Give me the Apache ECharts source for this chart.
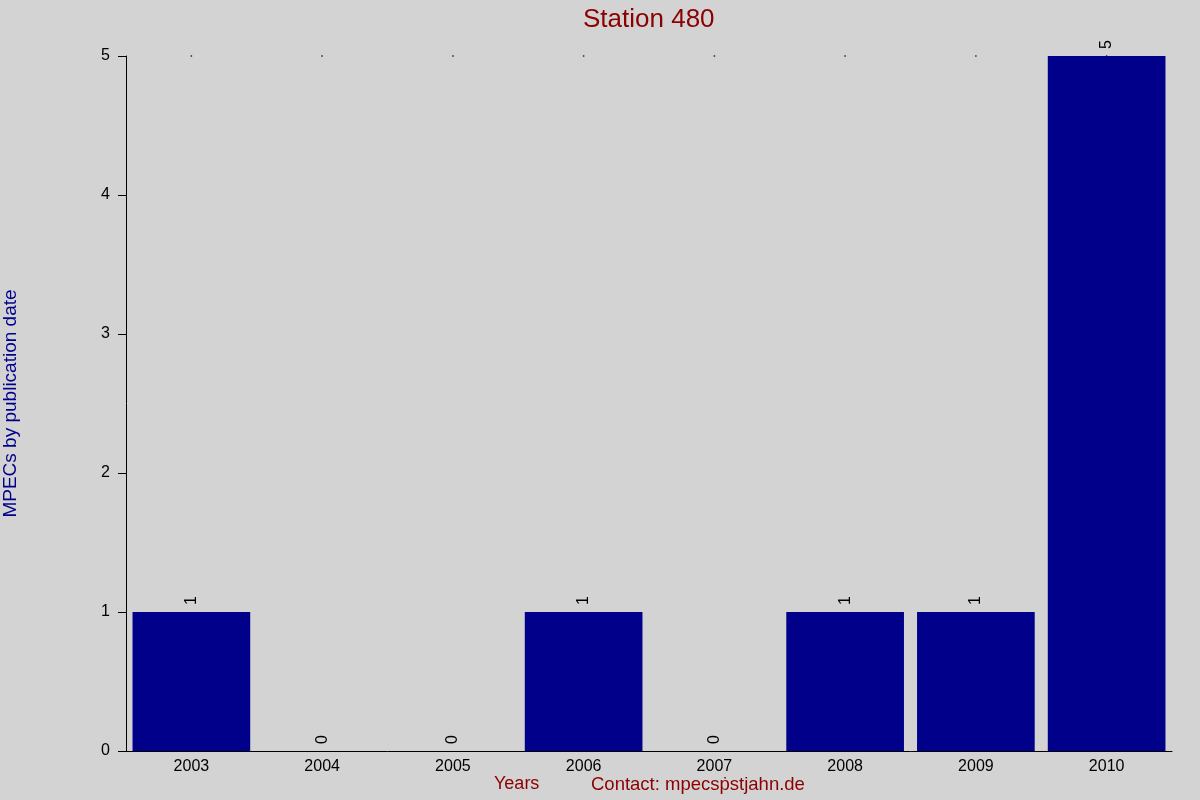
<!DOCTYPE html>
<html><head><meta charset="utf-8">
<script src="https://cdn.jsdelivr.net/npm/echarts@6/dist/echarts.min.js"></script>
<style>html,body{margin:0;padding:0;background:#D3D3D3}#c{width:1200px;height:800px}</style>
</head><body><div id="c"></div>
<script>
const categories = ['2003','2004','2005','2006','2007','2008','2009','2010'];
const mpecCounts = [1,0,0,1,0,1,1,5];
const yTicks = [0,1,2,3,4,5];
const yMax = 5;
const topMarks = categories.map(() => yMax);

const chart = echarts.init(document.getElementById('c'));
const font = 'Liberation Sans, Arial, sans-serif';
chart.setOption({
  backgroundColor: '#D3D3D3',
  animation: false,
  title: {
    text: 'Station 480', left: 578, top: 2,
    textStyle: {color: '#8B0000', fontSize: 26, fontWeight: 'normal', fontFamily: font}
  },
  grid: {left: 126, right: 28, top: 56, bottom: 49, containLabel: false, outerBoundsMode: 'none'},
  xAxis: {
    type: 'category', data: categories,
    axisLine: {show: true, lineStyle: {color: '#000', width: 1}},
    axisTick: {show: false},
    axisLabel: {color: '#000', fontSize: 16, fontFamily: font, margin: 8}
  },
  yAxis: {
    type: 'value', min: 0, max: yMax, interval: 1,
    name: 'MPECs by publication date', nameLocation: 'middle', nameGap: 106,
    nameTextStyle: {color: '#00008B', fontSize: 19, fontFamily: font},
    axisLine: {show: true, lineStyle: {color: '#000', width: 1}},
    axisTick: {show: true, length: 8, lineStyle: {color: '#000'}},
    axisLabel: {color: '#000', fontSize: 16, fontFamily: font, margin: 16},
    splitLine: {show: false}
  },
  series: [{
    type: 'bar', data: mpecCounts, barCategoryGap: '10%',
    itemStyle: {color: '#00008B'},
    label: {show: true, position: 'top', rotate: 90, align: 'left', verticalAlign: 'middle',
      distance: 7, color: '#000', fontSize: 16, fontFamily: font}
  }, {
    type: 'scatter', data: topMarks, symbol: 'rect', symbolSize: 1.5,
    itemStyle: {color: '#000'}, silent: true
  }],
  graphic: [
    {type: 'text', left: 494, top: 775, style: {text: 'Years', fill: '#8B0000', font: '18px ' + font}},
    {type: 'text', left: 591, top: 775, style: {text: 'Contact: mpecsṗstjahn.de', fill: '#8B0000', font: '18.5px ' + font}}
  ]
});
</script></body></html>
